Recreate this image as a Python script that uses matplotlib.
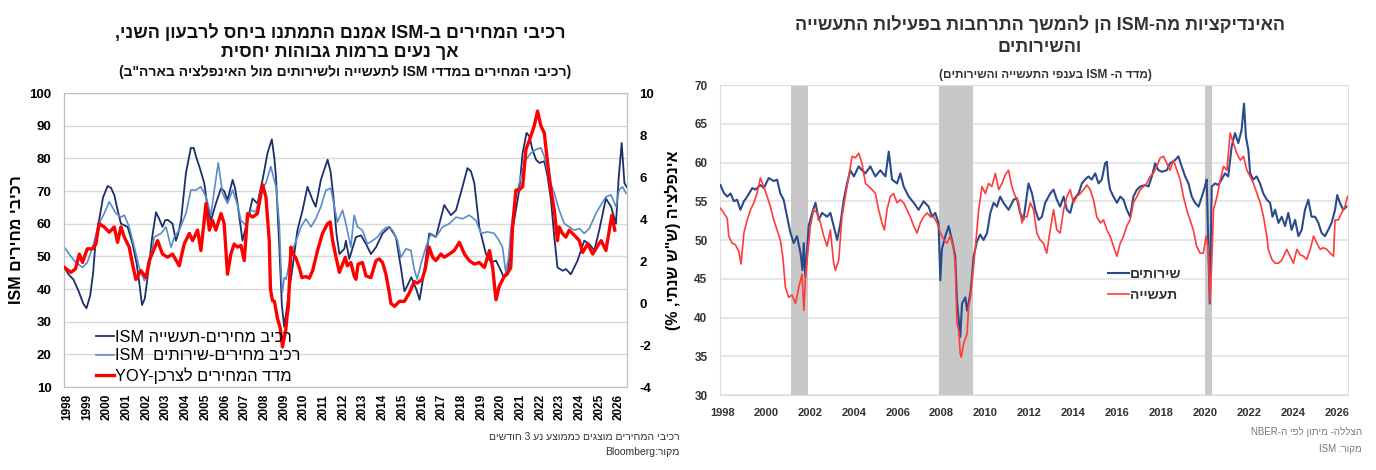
import re
import matplotlib
matplotlib.use("Agg")
import matplotlib.pyplot as plt

plt.rcParams["font.family"] = ["Liberation Sans", "DejaVu Sans"]
plt.rcParams["axes.unicode_minus"] = False


def rtl(s):
    # crude visual ordering for Hebrew text (matplotlib has no bidi)
    r = s[::-1].translate(str.maketrans("()", ")("))
    return re.sub(r"[A-Za-z0-9]+", lambda m: m.group(0)[::-1], r)


# ---------------- left panel data (ISM price components, CPI yoy) ----------------
mfg_px_t = [1997.84, 1998.05, 1998.30, 1998.55, 1998.80, 1998.96, 1999.15, 1999.30, 1999.44, 1999.60,
            1999.80, 2000.03, 2000.20, 2000.37, 2000.55, 2000.71, 2001.05, 2001.30, 2001.50, 2001.64,
            2001.78, 2001.92, 2002.06, 2002.30, 2002.49, 2002.65, 2002.82, 2002.95, 2003.08, 2003.33,
            2003.50, 2003.62, 2003.76, 2004.01, 2004.26, 2004.40, 2004.55, 2004.69, 2004.94, 2005.10,
            2005.28, 2005.53, 2005.79, 2005.95, 2006.12, 2006.38, 2006.50, 2006.63, 2006.88, 2007.14,
            2007.39, 2007.64, 2007.90, 2008.15, 2008.37, 2008.50, 2008.58, 2008.75, 2008.88, 2009.00,
            2009.15, 2009.25, 2009.42, 2009.67, 2009.93, 2010.18, 2010.44, 2010.60, 2010.86, 2011.20,
            2011.35, 2011.50, 2011.65, 2011.80, 2012.05, 2012.13, 2012.30, 2012.64, 2012.90, 2013.15,
            2013.40, 2013.66, 2013.99, 2014.34, 2014.67, 2014.92, 2015.10, 2015.25, 2015.45, 2015.70,
            2015.87, 2016.10, 2016.36, 2016.70, 2017.12, 2017.46, 2017.72, 2018.05, 2018.30, 2018.48,
            2018.65, 2018.90, 2019.24, 2019.50, 2019.75, 2020.00, 2020.15, 2020.35, 2020.50, 2020.67,
            2020.93, 2021.10, 2021.30, 2021.44, 2021.60, 2021.78, 2021.95, 2022.20, 2022.37, 2022.54,
            2022.71, 2022.87, 2023.13, 2023.30, 2023.55, 2023.89, 2024.23, 2024.48, 2024.74, 2024.99,
            2025.33, 2025.59, 2025.84, 2025.97, 2026.13, 2026.27, 2026.38]
mfg_px_v = [46.5, 44.5, 42.9, 39.5, 35.5, 34.1, 38, 45, 55.9, 61,
            68, 71.5, 71, 68.8, 64, 60, 59, 53.8, 48, 42,
            35.1, 37, 43.5, 56, 63.5, 61.5, 59, 61, 61.2, 60,
            54.8, 57, 61, 75.5, 83.2, 83.2, 80, 77.5, 72.4, 65.2,
            61, 66.2, 70.8, 70, 67.2, 73.4, 71, 66.2, 54.8, 61,
            67.7, 66.2, 73.4, 81.6, 85.8, 80, 74.4, 52.8, 35, 28.4,
            35, 39.5, 46.6, 58, 64.1, 71.3, 67.2, 65.2, 73.4, 79.6,
            76, 68, 57, 50.7, 52.3, 54.8, 49.2, 55.9, 56.4, 53.8,
            50.7, 52.8, 57, 59, 55.9, 46.6, 39.3, 41, 43.6, 40,
            36.7, 45.2, 57, 55.9, 65.7, 62.6, 64.1, 71.3, 77, 76,
            72.4, 59, 50.7, 48.1, 48.7, 45.6, 43.5, 44.5, 54.8, 61,
            70.3, 81.6, 87.8, 86.8, 82.7, 79.6, 78.6, 79.1, 74.4, 67.2,
            55.9, 46.6, 45.6, 46.1, 44.5, 48.7, 54.8, 53.8, 51.8, 58,
            67.7, 65.2, 60, 73.4, 84.7, 72.4, 71.3]

svc_px_t = [1997.84, 1998.08, 1998.42, 1998.76, 1999.00, 1999.27, 1999.60, 1999.86, 2000.12, 2000.46,
            2000.71, 2000.88, 2001.13, 2001.39, 2001.64, 2001.90, 2002.15, 2002.40, 2002.74, 2003.00,
            2003.25, 2003.42, 2003.67, 2004.01, 2004.26, 2004.52, 2004.77, 2005.03, 2005.28, 2005.45,
            2005.65, 2005.87, 2006.12, 2006.38, 2006.63, 2006.80, 2007.06, 2007.31, 2007.56, 2007.82,
            2008.07, 2008.32, 2008.58, 2008.75, 2008.85, 2008.91, 2009.00, 2009.10, 2009.34, 2009.67,
            2009.85, 2010.10, 2010.36, 2010.60, 2010.86, 2011.12, 2011.37, 2011.55, 2011.70, 2011.96,
            2012.13, 2012.38, 2012.55, 2012.72, 2012.97, 2013.22, 2013.48, 2013.73, 2013.99, 2014.24,
            2014.50, 2014.75, 2014.92, 2015.18, 2015.43, 2015.60, 2015.75, 2015.94, 2016.19, 2016.45,
            2016.70, 2017.04, 2017.38, 2017.72, 2018.05, 2018.39, 2018.73, 2018.99, 2019.32, 2019.66,
            2019.91, 2020.08, 2020.25, 2020.40, 2020.50, 2020.76, 2021.01, 2021.27, 2021.52, 2021.78,
            2022.03, 2022.20, 2022.46, 2022.71, 2022.96, 2023.22, 2023.47, 2023.73, 2023.98, 2024.23,
            2024.48, 2024.82, 2025.07, 2025.33, 2025.59, 2025.84, 2026.00, 2026.17, 2026.35]
svc_px_v = [52.8, 50.7, 48.1, 46.6, 48.1, 52.8, 60, 63.1, 66.7, 63.1,
            62, 62.6, 59, 52.8, 46.6, 42.5, 46.6, 55.9, 57, 59,
            52.8, 55.9, 58, 63.1, 70.3, 70.3, 71.3, 68.2, 62.6, 70.3,
            78.6, 69.3, 66.2, 70.3, 65.7, 61, 59.5, 64.1, 63.6, 70.3,
            72.4, 77.5, 71.3, 60, 44, 39, 43.5, 43, 50.7, 55.9,
            59, 61.5, 59, 61.5, 65.2, 70.3, 70.8, 65, 60.5, 64.1,
            60, 52.8, 62.6, 59, 58, 53.8, 54.8, 55.9, 58, 59,
            58, 54.8, 49.7, 52.3, 51.8, 46, 43, 47.7, 52.8, 57,
            55.9, 59, 60, 62, 61.5, 62.6, 61, 57, 57.5, 57,
            54.8, 52.8, 45, 50, 58, 68.2, 74.4, 79.6, 81.6, 82.7,
            83.2, 80.6, 73.4, 69.3, 64.1, 60, 59, 58, 58.5, 57,
            58.5, 63.1, 65.7, 68.2, 68.8, 65.2, 70.3, 71.3, 69.3]

cpi_t = [1997.84, 1998.17, 1998.40, 1998.60, 1998.76, 1999.00, 1999.27, 1999.44, 1999.60, 1999.86,
         2000.12, 2000.37, 2000.54, 2000.71, 2000.88, 2001.13, 2001.30, 2001.47, 2001.72, 2001.98,
         2002.15, 2002.57, 2002.82, 2003.08, 2003.33, 2003.67, 2003.92, 2004.18, 2004.35, 2004.60,
         2004.77, 2005.03, 2005.20, 2005.36, 2005.53, 2005.79, 2005.95, 2006.12, 2006.29, 2006.46,
         2006.63, 2006.80, 2006.97, 2007.14, 2007.39, 2007.64, 2007.90, 2008.07, 2008.24, 2008.30,
         2008.40, 2008.50, 2008.66, 2008.80, 2008.91, 2009.08, 2009.15, 2009.20, 2009.28, 2009.34,
         2009.45, 2009.59, 2009.76, 2009.90, 2010.10, 2010.27, 2010.44, 2010.69, 2010.94, 2011.20,
         2011.33, 2011.45, 2011.62, 2011.80, 2012.10, 2012.20, 2012.38, 2012.55, 2012.64, 2012.75,
         2012.97, 2013.15, 2013.40, 2013.66, 2013.82, 2013.99, 2014.16, 2014.30, 2014.42, 2014.60,
         2014.85, 2015.10, 2015.35, 2015.60, 2015.75, 2016.00, 2016.15, 2016.36, 2016.53, 2016.70,
         2016.95, 2017.12, 2017.38, 2017.63, 2017.89, 2018.15, 2018.39, 2018.65, 2018.90, 2019.16,
         2019.42, 2019.58, 2019.66, 2019.75, 2019.91, 2020.17, 2020.35, 2020.50, 2020.59, 2020.76,
         2020.93, 2021.10, 2021.27, 2021.52, 2021.69, 2021.86, 2022.03, 2022.20, 2022.37, 2022.54,
         2022.71, 2022.87, 2022.96, 2023.13, 2023.30, 2023.47, 2023.73, 2023.98, 2024.15, 2024.40,
         2024.66, 2024.92, 2025.09, 2025.33, 2025.50, 2025.63, 2025.78]
cpi_v = [1.69, 1.46, 1.62, 2.33, 1.93, 2.58, 2.58, 2.81, 3.78, 3.62,
         3.37, 3.62, 2.89, 3.62, 3.14, 2.66, 1.85, 1.12, 1.54, 1.21,
         2.02, 2.97, 2.33, 2.18, 2.33, 1.77, 2.81, 3.31, 2.97, 3.47,
         2.50, 4.74, 3.47, 3.93, 3.47, 4.26, 3.78, 1.37, 2.33, 2.81,
         2.66, 2.74, 2.02, 4.26, 4.09, 4.26, 5.63, 5.05, 2.97, 0.67,
         0.12, 0.08, -0.75, -1.20, -2.09, -1.26, -0.58, -0.27, 1.29, 2.66,
         2.33, 2.14, 1.69, 1.21, 1.26, 1.18, 1.54, 2.50, 3.31, 3.78,
         3.86, 3.00, 2.22, 1.46, 2.18, 1.77, 1.93, 1.29, 1.13, 1.85,
         1.93, 1.29, 1.21, 2.02, 2.10, 1.93, 1.37, 0.67, -0.03, -0.16,
         0.08, 0.08, 0.48, 1.02, 0.95, 1.12, 1.60, 2.66, 2.18, 2.02,
         2.33, 2.18, 2.33, 2.50, 2.89, 2.33, 2.02, 1.85, 1.93, 1.69,
         2.50, 1.69, 0.95, 0.15, 0.79, 1.27, 1.44, 1.69, 3.62, 5.38,
         5.38, 5.54, 7.31, 7.95, 8.43, 9.14, 8.43, 8.10, 6.67, 5.38,
         4.42, 2.97, 3.62, 3.30, 3.14, 3.47, 3.22, 2.97, 2.41, 2.81,
         2.33, 2.74, 2.97, 2.50, 3.47, 4.18, 3.47]

# ---------------- right panel data (ISM indices) ----------------
svc_t = [1997.92, 1998.07, 1998.23, 1998.38, 1998.53, 1998.68, 1998.83, 1998.99, 1999.14, 1999.37,
         1999.52, 1999.74, 1999.90, 2000.12, 2000.35, 2000.50, 2000.65, 2000.80, 2000.96, 2001.11,
         2001.26, 2001.41, 2001.57, 2001.66, 2001.72, 2001.79, 2001.94, 2002.10, 2002.25, 2002.40,
         2002.55, 2002.78, 2002.93, 2003.08, 2003.24, 2003.39, 2003.54, 2003.69, 2003.84, 2004.00,
         2004.22, 2004.37, 2004.53, 2004.75, 2004.98, 2005.21, 2005.44, 2005.59, 2005.74, 2005.97,
         2006.12, 2006.27, 2006.50, 2006.73, 2006.95, 2007.18, 2007.41, 2007.56, 2007.71, 2007.86,
         2007.94, 2008.01, 2008.17, 2008.32, 2008.47, 2008.62, 2008.70, 2008.85, 2008.93, 2009.08,
         2009.16, 2009.31, 2009.38, 2009.46, 2009.61, 2009.76, 2009.91, 2010.07, 2010.22, 2010.37,
         2010.52, 2010.67, 2010.82, 2011.05, 2011.28, 2011.43, 2011.58, 2011.73, 2011.96, 2012.12,
         2012.27, 2012.42, 2012.57, 2012.72, 2012.95, 2013.10, 2013.25, 2013.40, 2013.56, 2013.71,
         2013.86, 2014.01, 2014.24, 2014.39, 2014.54, 2014.69, 2014.84, 2015.00, 2015.15, 2015.30,
         2015.45, 2015.53, 2015.60, 2015.68, 2015.83, 2015.99, 2016.14, 2016.29, 2016.44, 2016.59,
         2016.74, 2016.90, 2017.05, 2017.28, 2017.43, 2017.58, 2017.73, 2017.88, 2018.04, 2018.26,
         2018.41, 2018.64, 2018.79, 2018.94, 2019.10, 2019.25, 2019.40, 2019.55, 2019.71, 2019.86,
         2020.00, 2020.08, 2020.22, 2020.31, 2020.46, 2020.61, 2020.76, 2020.91, 2021.06, 2021.22,
         2021.37, 2021.52, 2021.67, 2021.78, 2021.87, 2021.98, 2022.06, 2022.20, 2022.36, 2022.51,
         2022.66, 2022.82, 2022.97, 2023.08, 2023.20, 2023.35, 2023.50, 2023.65, 2023.80, 2023.95,
         2024.11, 2024.26, 2024.41, 2024.56, 2024.71, 2024.86, 2025.02, 2025.17, 2025.32, 2025.47,
         2025.62, 2025.77, 2025.93, 2026.03, 2026.15, 2026.30, 2026.45]
svc_v = [57.1, 56.1, 55.6, 56, 55, 55.2, 53.9, 55, 55.6, 56.7,
         56.5, 57.1, 56.7, 58, 57.6, 57.8, 56, 55.2, 53, 50.9,
         49.6, 50.5, 48.3, 46.1, 49.6, 45.2, 51.8, 53.5, 54.8, 52.6,
         53.5, 53, 53.5, 51.8, 50, 52.2, 55.2, 57.3, 59, 58.2,
         59.5, 59, 58.6, 59.5, 58.2, 59, 58.2, 61.4, 57.8, 57.3,
         58.6, 56.9, 55.6, 54.8, 53.9, 55, 54.3, 53, 53.5, 52.2,
         44.8, 48.8, 50.5, 51.8, 50, 47.9, 42.2, 37.5, 41.8, 42.6,
         40.9, 43.1, 45.2, 47.9, 49.8, 50.7, 50, 50.9, 53.5, 54.8,
         54.3, 55.6, 54.8, 53.9, 55.2, 55.4, 53.5, 52.6, 57.3, 56,
         53.9, 52.6, 53, 54.8, 56, 56.5, 55.2, 54.3, 55.6, 53.9,
         53.5, 55.2, 56, 57.3, 57.8, 58.2, 57.8, 58.6, 57.3, 57.8,
         59.9, 60.1, 57.8, 56.5, 55.6, 54.8, 55.6, 55.2, 53.9, 53,
         55.6, 56.5, 56.9, 57.1, 56.9, 58.2, 59.9, 59, 58.8, 59,
         59.9, 60.3, 60.8, 59.5, 58.2, 57.3, 55.6, 54.8, 54.3, 55.6,
         56.9, 57.8, 41.8, 56.9, 57.3, 57.1, 57.8, 58.6, 58.2, 62.1,
         63.8, 62.5, 64.2, 67.6, 63.3, 61.6, 58.6, 57.8, 58.2, 57.3,
         56, 55.2, 54.8, 53, 53.9, 52.2, 53, 51.8, 53.5, 51.3,
         52.6, 50.5, 51.3, 53.9, 55.2, 53, 53, 52.2, 50.9, 50.5,
         51.3, 52.2, 53.9, 55.8, 54.8, 53.9, 54.3]

mfg_t = [1997.92, 1998.07, 1998.23, 1998.30, 1998.45, 1998.60, 1998.76, 1998.86, 1998.99, 1999.14,
         1999.29, 1999.44, 1999.59, 1999.74, 1999.89, 2000.05, 2000.20, 2000.35, 2000.50, 2000.65,
         2000.76, 2000.88, 2001.03, 2001.18, 2001.34, 2001.49, 2001.64, 2001.72, 2001.79, 2001.87,
         2002.02, 2002.17, 2002.32, 2002.48, 2002.63, 2002.78, 2002.93, 2003.08, 2003.16, 2003.31,
         2003.46, 2003.61, 2003.77, 2003.92, 2004.07, 2004.22, 2004.37, 2004.53, 2004.68, 2004.83,
         2004.98, 2005.13, 2005.28, 2005.39, 2005.51, 2005.66, 2005.81, 2005.97, 2006.12, 2006.27,
         2006.42, 2006.57, 2006.73, 2006.88, 2007.03, 2007.18, 2007.34, 2007.49, 2007.64, 2007.79,
         2007.95, 2008.10, 2008.25, 2008.40, 2008.55, 2008.62, 2008.70, 2008.78, 2008.85, 2008.90,
         2009.00, 2009.16, 2009.23, 2009.31, 2009.38, 2009.45, 2009.53, 2009.69, 2009.84, 2009.99,
         2010.14, 2010.29, 2010.45, 2010.60, 2010.75, 2010.90, 2011.05, 2011.20, 2011.36, 2011.51,
         2011.66, 2011.73, 2011.89, 2012.04, 2012.19, 2012.34, 2012.49, 2012.64, 2012.79, 2012.95,
         2013.10, 2013.25, 2013.40, 2013.56, 2013.71, 2013.86, 2014.01, 2014.16, 2014.32, 2014.47,
         2014.62, 2014.77, 2014.92, 2015.07, 2015.23, 2015.38, 2015.53, 2015.68, 2015.83, 2015.99,
         2016.14, 2016.29, 2016.44, 2016.59, 2016.74, 2016.90, 2017.05, 2017.20, 2017.35, 2017.50,
         2017.65, 2017.81, 2017.96, 2018.11, 2018.26, 2018.41, 2018.57, 2018.72, 2018.87, 2019.02,
         2019.17, 2019.32, 2019.47, 2019.62, 2019.78, 2019.93, 2020.05, 2020.15, 2020.24, 2020.32,
         2020.39, 2020.55, 2020.70, 2020.85, 2021.00, 2021.15, 2021.30, 2021.45, 2021.61, 2021.76,
         2021.91, 2022.06, 2022.21, 2022.37, 2022.52, 2022.67, 2022.82, 2022.89, 2023.05, 2023.20,
         2023.35, 2023.50, 2023.73, 2023.88, 2024.03, 2024.19, 2024.34, 2024.49, 2024.64, 2024.80,
         2024.95, 2025.10, 2025.25, 2025.40, 2025.55, 2025.71, 2025.86, 2025.93, 2026.08, 2026.23,
         2026.38, 2026.50]
mfg_v = [54.1, 53.5, 52.8, 50.5, 49.6, 49.4, 48.5, 46.9, 50.9, 52.6,
         53.9, 54.8, 56, 58, 56.9, 55.6, 54.3, 52.6, 51.3, 50,
         47.9, 43.9, 42.6, 42.9, 41.8, 43.9, 45.6, 40.9, 44.8, 47.4,
         51.8, 53.9, 53.5, 52.2, 50.5, 49.2, 51.3, 47, 46.1, 47.4,
         53, 55.6, 58.2, 60.8, 60.6, 61.2, 59.9, 57.3, 56.9, 56.5,
         56, 53.9, 52.2, 51.3, 53.9, 55.6, 56, 54.8, 55.2, 54.8,
         53.9, 53, 51.8, 50.9, 52.2, 53, 53.5, 53, 53, 52.2,
         50.9, 50, 49.6, 50.5, 48.8, 47, 39.2, 38.3, 35.3, 34.9,
         36.6, 37.9, 41.4, 42.6, 44.4, 46.5, 48.8, 53.9, 56.9, 56,
         57.3, 56.9, 58.6, 56.5, 57.3, 58.4, 59, 56.9, 55.6, 54.8,
         52.2, 53, 53, 54.8, 53.9, 50.9, 50, 49.6, 48.3, 51.3,
         53.9, 51.3, 50.9, 53.9, 55.6, 56.5, 54.8, 55.6, 56, 56.5,
         57.1, 56.5, 55.2, 53, 52.2, 52.6, 51.3, 50.5, 49.2, 47.9,
         49.6, 50.5, 51.8, 52.6, 54.8, 55.6, 56.5, 56.9, 57.3, 58.2,
         58.6, 59.5, 60.6, 60.8, 59.9, 59, 60.3, 59, 57.8, 55.6,
         53.9, 52.6, 51.3, 49.2, 48.3, 48.3, 50.5, 49, 42, 48,
         53.9, 55.6, 57.8, 59.5, 59, 63.8, 62.5, 61.2, 60.3, 60.8,
         59, 58.2, 57.3, 56, 54.8, 53, 50.5, 48.8, 47.5, 47,
         47, 47.4, 48.8, 47.9, 47, 48.8, 48.1, 47.9, 47.5, 48.8,
         50.5, 49.6, 48.8, 49, 48.8, 48.3, 47.9, 52.6, 52.6, 53.5,
         54.3, 55.6]

rec_start = [2001.15, 2007.87, 2020.02]
rec_end = [2001.90, 2009.45, 2020.30]

left_years = list(range(1998, 2027))
right_years = list(range(1998, 2027, 2))

fig = plt.figure(figsize=(13.76, 4.7), dpi=100)

# ================= left panel =================
ax = fig.add_axes([64 / 1376, 1 - 387 / 470, 563 / 1376, 294 / 470])
ax2 = ax.twinx()

l1, = ax.plot(mfg_px_t, mfg_px_v, color="#1b2f6b", lw=1.3, zorder=3)
l2, = ax.plot(svc_px_t, svc_px_v, color="#5b8cca", lw=1.2, zorder=3)
l3, = ax2.plot(cpi_t, cpi_v, color="#ff0000", lw=2.4, zorder=4)

ax.set_xlim(1997.82, 2026.4)
ax.set_ylim(10, 100)
ax.set_yticks(range(10, 101, 10))
ax2.set_ylim(-4, 10)
ax2.set_yticks(range(-4, 11, 2))
ax.set_xticks(left_years)
ax.set_xticklabels([str(y) for y in left_years], rotation=90, fontsize=8.5, fontweight="bold")
ax.grid(axis="y", color="#d9d9d9", lw=1)
ax.set_axisbelow(True)
ax.tick_params(axis="both", length=0)
ax.tick_params(axis="y", labelsize=9.5, pad=9)
ax.tick_params(axis="x", pad=5)
ax2.tick_params(axis="y", length=0, labelsize=9.5, pad=9)
for t in ax.get_yticklabels() + ax2.get_yticklabels():
    t.set_fontweight("bold")
for a in (ax, ax2):
    for s in a.spines.values():
        s.set_color("#bfbfbf")

ax.set_ylabel(rtl("רכיבי מחירים ISM"), fontsize=11.5, fontweight="bold", labelpad=4)
ax2.set_ylabel(rtl('אינפלציה (ש"ש שנתי, %)'), fontsize=11.5, fontweight="bold",
               rotation=90, labelpad=8)

ax2.legend([l1, l2, l3],
           [rtl("רכיב מחירים-תעשייה ISM"), rtl("רכיב מחירים-שירותים  ISM"),
            rtl("מדד המחירים לצרכן-YOY")],
           loc="lower left", bbox_to_anchor=(0.036, -0.028), frameon=False,
           prop={"size": 11.8}, handlelength=1.1, handletextpad=0.1,
           labelspacing=0.22, borderpad=0.2)

fig.text(340 / 1376, 1 - 33 / 470, rtl("רכיבי המחירים ב-ISM אמנם התמתנו ביחס לרבעון השני,"),
         ha="center", va="center", fontsize=13, fontweight="bold", color="#111111")
fig.text(340 / 1376, 1 - 53 / 470, rtl("אך נעים ברמות גבוהות יחסית"),
         ha="center", va="center", fontsize=13, fontweight="bold", color="#111111")
fig.text(345 / 1376, 1 - 72 / 470,
         rtl('(רכיבי המחירים במדדי ISM לתעשייה ולשירותים מול האינפלציה בארה"ב)'),
         ha="center", va="center", fontsize=10, fontweight="bold", color="#111111")
fig.text(680 / 1376, 1 - 437 / 470, rtl("רכיבי המחירים מוצגים כממוצע נע 3 חודשים"),
         ha="right", va="center", fontsize=7.5, color="#333333")
fig.text(680 / 1376, 1 - 452 / 470, rtl("מקור:Bloomberg"),
         ha="right", va="center", fontsize=7.5, color="#333333")

# ================= right panel =================
ax3 = fig.add_axes([720 / 1376, 1 - 395 / 470, 628 / 1376, 310 / 470])
for s0, s1 in zip(rec_start, rec_end):
    ax3.axvspan(s0, s1, color="#c8c8c8", lw=0, zorder=1)
p1, = ax3.plot(svc_t, svc_v, color="#2b4a8c", lw=1.5, zorder=3)
p2, = ax3.plot(mfg_t, mfg_v, color="#ff3b3b", lw=1.2, zorder=4)

ax3.set_xlim(1997.9, 2026.52)
ax3.set_ylim(30, 70)
ax3.set_yticks(range(30, 71, 5))
ax3.set_xticks(right_years)
ax3.set_xticklabels([str(y) for y in right_years], fontsize=8, fontweight="bold", color="#333333")
ax3.grid(axis="y", color="#e3e3e3", lw=1.2)
ax3.set_axisbelow(True)
ax3.tick_params(axis="both", length=0, colors="#333333")
ax3.tick_params(axis="y", labelsize=8.5, pad=9)
ax3.tick_params(axis="x", pad=9)
for t in ax3.get_yticklabels():
    t.set_fontweight("bold")
for s in ax3.spines.values():
    s.set_color("#dddddd")

ax3.legend([p1, p2], [rtl("שירותים"), rtl("תעשייה")], loc="lower left",
           bbox_to_anchor=(0.598, 0.26), frameon=False,
           prop={"size": 10, "weight": "bold"}, handlelength=1.5,
           handletextpad=0.1, labelspacing=0.5, labelcolor="#333333")

fig.text(1040 / 1376, 1 - 25 / 470, rtl("האינדיקציות מה-ISM הן להמשך התרחבות בפעילות התעשייה"),
         ha="center", va="center", fontsize=13, fontweight="bold", color="#333333")
fig.text(1040 / 1376, 1 - 47 / 470, rtl("והשירותים"),
         ha="center", va="center", fontsize=13, fontweight="bold", color="#333333")
fig.text(1045 / 1376, 1 - 75 / 470, rtl("(מדד ה- ISM בענפי התעשייה והשירותים)"),
         ha="center", va="center", fontsize=8.5, fontweight="bold", color="#333333")
fig.text(1362 / 1376, 1 - 432 / 470, rtl("הצללה- מיתון לפי ה-NBER"),
         ha="right", va="center", fontsize=7, color="#777777")
fig.text(1362 / 1376, 1 - 449 / 470, rtl("מקור: ISM"),
         ha="right", va="center", fontsize=7, color="#777777")

fig.savefig("out.png", dpi=100, facecolor="white")
